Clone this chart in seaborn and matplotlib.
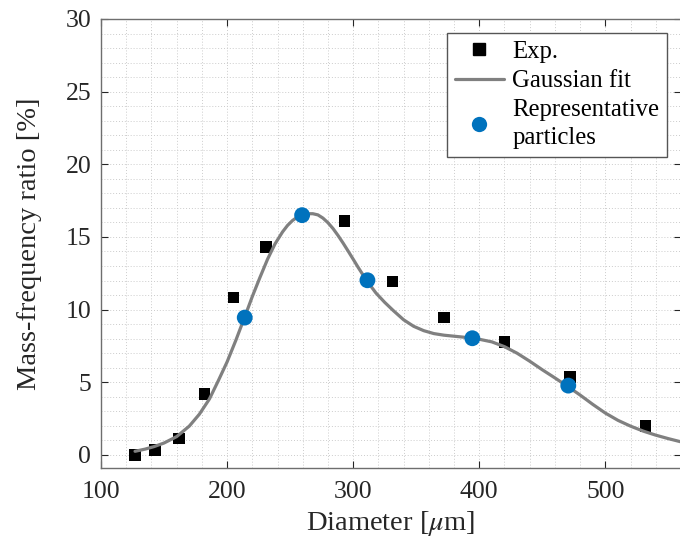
import numpy as np
import pandas as pd
import matplotlib
matplotlib.use("Agg")
import matplotlib.pyplot as plt
import seaborn as sns
from matplotlib.lines import Line2D
from matplotlib.ticker import MultipleLocator

# Measured mass-frequency distribution
exp_d = [127, 143, 162, 182, 205, 231, 293, 331, 372, 420, 472, 532]
exp_r = [0.0, 0.35, 1.12, 4.2, 10.85, 14.3, 16.1, 11.93, 9.45, 7.76, 5.35, 2.0]

# Gaussian fit curve (sampled)
fit_d = [127, 135, 142, 150, 160, 170, 178, 186, 193, 200, 207, 214, 220, 226,
         232, 238, 244, 248, 252, 256, 260, 264, 268, 272, 276, 280, 284, 288,
         292, 296, 300, 304, 308, 312, 318, 325, 332, 340, 348, 356, 364, 372,
         380, 388, 394, 400, 410, 420, 430, 440, 450, 460, 470, 480, 490, 500,
         510, 520, 530, 540, 550, 560]
fit_r = [0.25, 0.40, 0.57, 0.82, 1.26, 1.98, 2.80, 3.85, 5.10, 6.40, 7.90,
         9.50, 10.90, 12.20, 13.45, 14.52, 15.35, 15.80, 16.14, 16.38, 16.53,
         16.60, 16.60, 16.52, 16.30, 15.98, 15.58, 15.10, 14.58, 14.03, 13.47,
         12.90, 12.36, 11.85, 11.15, 10.50, 9.92, 9.30, 8.85, 8.55, 8.35, 8.24,
         8.17, 8.10, 8.04, 7.96, 7.78, 7.45, 7.00, 6.45, 5.86, 5.30, 4.72,
         4.12, 3.48, 2.88, 2.38, 1.98, 1.64, 1.36, 1.12, 0.90]

# Representative particles
rep_d = [214, 259.5, 311.3, 394.5, 470.6]
rep_r = [9.45, 16.5, 12.02, 8.03, 4.77]

sns.set_theme(style="ticks")
plt.rcParams["font.family"] = ["Liberation Serif", "DejaVu Serif"]
plt.rcParams["mathtext.fontset"] = "stix"

axis_col = "#262626"
fig = plt.figure(figsize=(6.8, 5.41), dpi=100)
ax = fig.add_axes([101 / 680, 73 / 541, 580 / 680, 449 / 541])

blue = "#0072BD"
gray = "#808080"

sns.scatterplot(x=exp_d, y=exp_r, marker="s", s=68, color="black",
                edgecolor="none", linewidth=0, ax=ax, zorder=3, legend=False)
sns.lineplot(x=fit_d, y=fit_r, sort=False, color=gray, linewidth=2.3, ax=ax,
             zorder=4, legend=False)
sns.scatterplot(x=rep_d, y=rep_r, marker="o", s=130, color=blue,
                edgecolor="none", linewidth=0, ax=ax, zorder=5, legend=False)

ax.set_xlim(100, 560)
ax.set_ylim(-0.9, 30)
ax.xaxis.set_major_locator(MultipleLocator(100))
ax.xaxis.set_minor_locator(MultipleLocator(20))
ax.yaxis.set_major_locator(MultipleLocator(5))
ax.yaxis.set_minor_locator(MultipleLocator(1))

ax.grid(which="both", linestyle=(0, (1, 2)), color="#cccccc", linewidth=0.7)
ax.set_axisbelow(True)

ax.tick_params(which="major", direction="in", length=5, width=0.8,
               top=True, right=True, colors=axis_col, labelsize=18.5)
ax.tick_params(axis="x", pad=9)
ax.tick_params(axis="y", pad=7)
ax.tick_params(which="minor", length=0, top=True, right=True)
for sp in ax.spines.values():
    sp.set_color("#6e6e6e")
    sp.set_linewidth(1.0)

ax.set_xlabel(r"Diameter [$\mu$m]", fontsize=20.5, color=axis_col, labelpad=5)
ax.set_ylabel("Mass-frequency ratio [%]", fontsize=20.5, color=axis_col,
              labelpad=17)

handles = [
    Line2D([], [], marker="s", linestyle="none", color="black", markersize=8),
    Line2D([], [], color=gray, linewidth=2.3),
    Line2D([], [], marker="o", linestyle="none", color=blue, markersize=11,
           markeredgewidth=0),
]
labels = ["Exp.", "Gaussian fit", "Representative\nparticles"]
leg = ax.legend(handles, labels, loc="upper right", fontsize=17.8,
                frameon=True, fancybox=False, framealpha=1, edgecolor="#555555",
                bbox_to_anchor=(0.976, 0.969), borderpad=0.32, labelspacing=0.28,
                handlelength=1.95, handletextpad=0.35, borderaxespad=0.0)
leg.get_frame().set_linewidth(1.0)
for t in leg.get_texts():
    t.set_color("black")
    t.set_linespacing(1.32)

fig.savefig("out.png", dpi=100)
